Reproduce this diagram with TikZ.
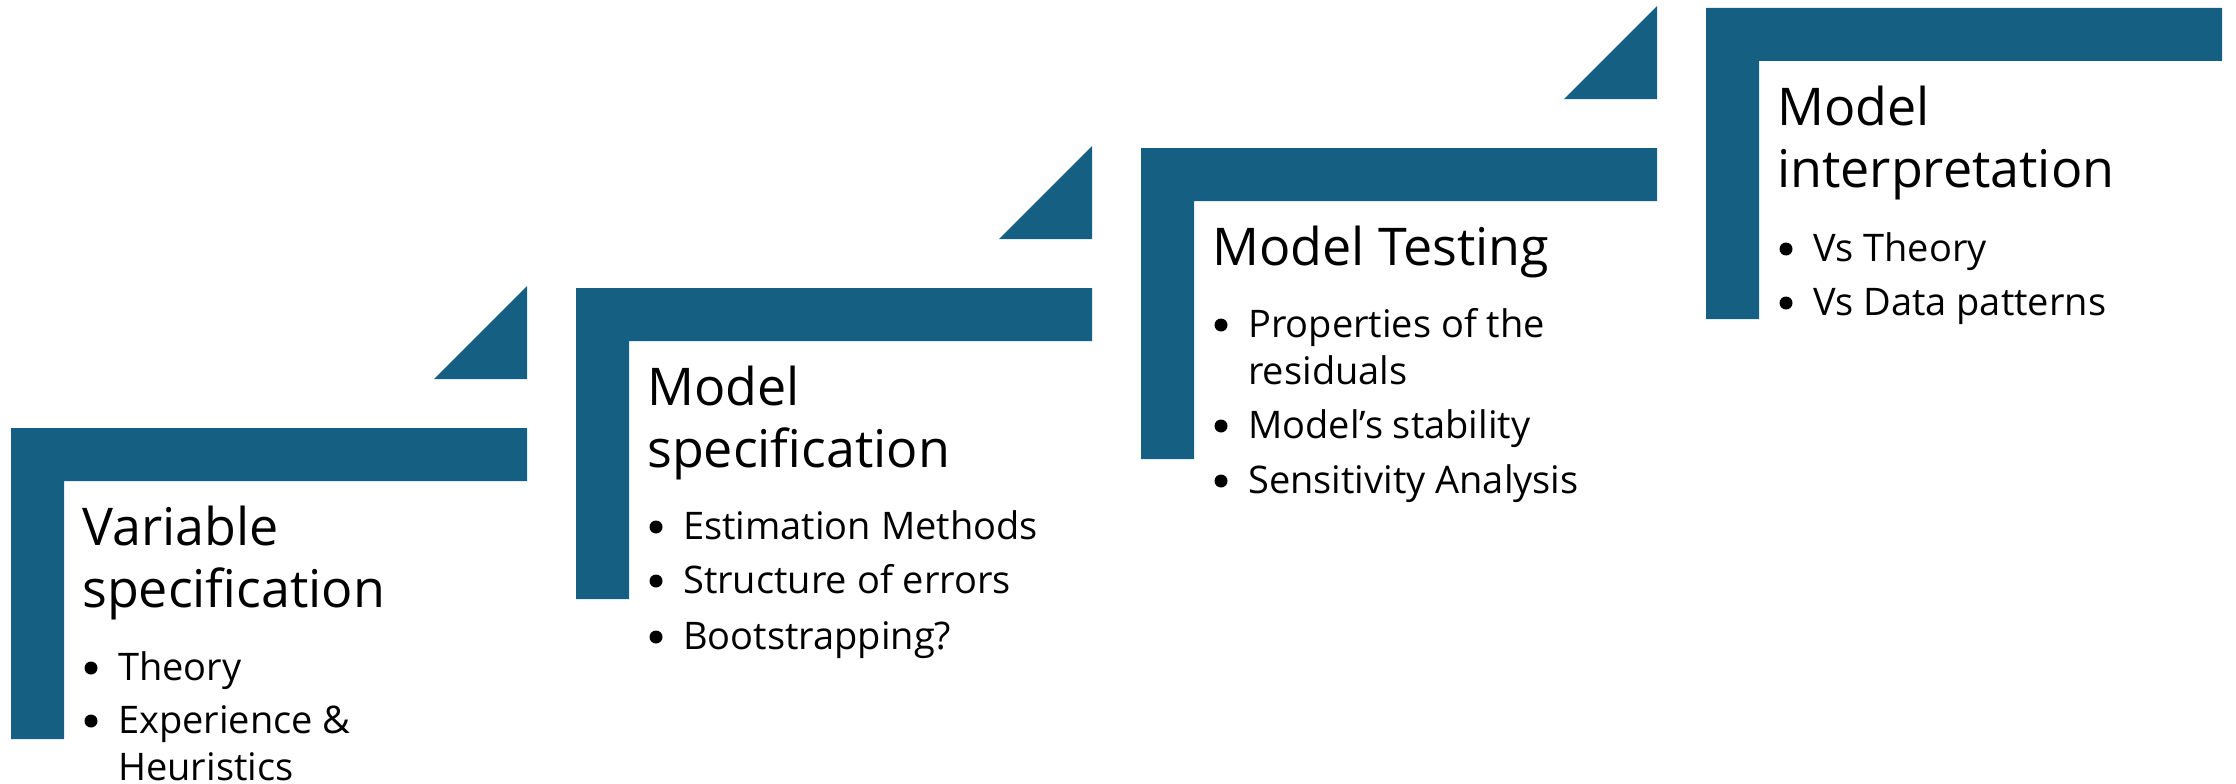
\documentclass[tikz,border=0pt]{standalone}
\usepackage{fontspec}
\setmainfont{Open Sans}
\definecolor{stepblue}{HTML}{156082}
\tikzset{
  bracketfill/.style={fill=stepblue},
  titletext/.style={anchor=base west, inner sep=0pt, font=\fontsize{52}{62}\selectfont},
  itemtext/.style={anchor=base west, inner sep=0pt, font=\fontsize{38}{47}\selectfont},
  itemdot/.style={circle, fill=black, inner sep=0pt, minimum size=13pt},
}
% L-shaped frame of one step, origin at its top-left corner
\newcommand\stepframe{%
  \fill[bracketfill] (0,0) -- (516,0) -- (516,53) -- (53,53) -- (53,311) -- (0,311) -- cycle;}
% small triangle above the frame, pointing to the next step
\newcommand\steptriangle{%
  \fill[bracketfill] (516,-142) -- (516,-49) -- (423,-49) -- cycle;}
% bullet point: name, baseline, text
\newcommand\itemline[3]{%
  \node[itemdot] (#1d) at (80,#2-12) {};
  \node[itemtext] (#1) at (107,#2) {#3};}
\newcommand\itemcont[3]{%
  \node[itemtext] (#1) at (107,#2) {#3};}
\begin{document}
\begin{tikzpicture}[x=1pt, y=-1pt]
\useasboundingbox (0,0) rectangle (2236,784);

% Step 1
\begin{scope}[shift={(11,428)}]
  \stepframe \steptriangle
  \node[titletext] (s1t1) at (71,117) {Variable};
  \node[titletext] (s1t2) at (71,179) {specification};
  \itemline{s1b1}{252}{Theory}
  \itemline{s1b2}{305}{Experience \&}
  \itemcont{s1b3}{352}{Heuristics}
\end{scope}

% Step 2
\begin{scope}[shift={(576,288)}]
  \stepframe \steptriangle
  \node[titletext] (s2t1) at (71,117) {Model};
  \node[titletext] (s2t2) at (71,179) {specification};
  \itemline{s2b1}{251}{Estimation Methods}
  \itemline{s2b2}{305}{Structure of errors}
  \itemline{s2b3}{361}{Bootstrapping?}
\end{scope}

% Step 3
\begin{scope}[shift={(1141,148)}]
  \stepframe \steptriangle
  \node[titletext] (s3t1) at (71,117) {Model Testing};
  \itemline{s3b1}{189}{Properties of the}
  \itemcont{s3b2}{236}{residuals}
  \itemline{s3b3}{290}{Model’s stability}
  \itemline{s3b4}{345}{Sensitivity Analysis}
\end{scope}

% Step 4
\begin{scope}[shift={(1706,8)}]
  \stepframe
  \node[titletext] (s4t1) at (71,117) {Model};
  \node[titletext] (s4t2) at (71,179) {interpretation};
  \itemline{s4b1}{253}{Vs Theory}
  \itemline{s4b2}{307}{Vs Data patterns}
\end{scope}
\end{tikzpicture}
\end{document}
